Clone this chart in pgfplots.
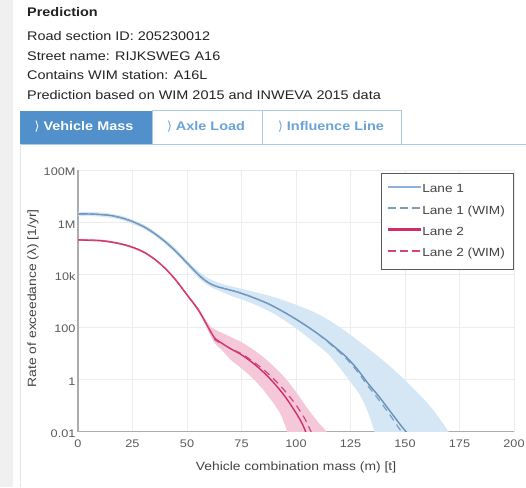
\documentclass[border=0pt]{standalone}
\usepackage{fontspec}
\setmainfont[FakeStretch=1.155]{Liberation Sans}
\newfontfamily\dejavu{DejaVu Sans}
\usepackage{pgfplots}
\pgfplotsset{compat=1.18}
\definecolor{laneone}{HTML}{6592BC}
\definecolor{laneonelegend}{HTML}{8DB1D8}
\definecolor{laneonedash}{HTML}{7D9CBE}
\definecolor{laneonelite}{HTML}{D5E6F4}
\definecolor{lanetwo}{HTML}{CF2F68}
\definecolor{lanetwodash}{HTML}{D6457A}
\definecolor{lanetwolite}{HTML}{F5C8D9}
\definecolor{tabblue}{HTML}{5190CB}
\definecolor{tabborder}{HTML}{A9CBE8}
\definecolor{tabtext}{HTML}{6AA3D8}
\definecolor{txt}{HTML}{222222}
\definecolor{lbl}{HTML}{444444}
\begin{document}
\begin{tikzpicture}[x=1pt,y=1pt]
\path[use as bounding box] (0,0) rectangle (526,487);
\fill[gray!12] (0,0) rectangle (13,487);
% header
\node[anchor=base west, inner sep=0, text=txt, font=\bfseries\fontsize{12.5}{15}\selectfont] at (27,470) {Prediction};
\node[anchor=base west, inner sep=0, text=txt, font=\fontsize{12.5}{15}\selectfont] at (27,446) {Road section ID: 205230012};
\node[anchor=base west, inner sep=0, text=txt, font=\fontsize{12.5}{15}\selectfont] at (27,426.5) {Street name: RIJKSWEG A16};
\node[anchor=base west, inner sep=0, text=txt, font=\fontsize{12.5}{15}\selectfont] at (27,407) {Contains WIM station: A16L};
\node[anchor=base west, inner sep=0, text=txt, font=\fontsize{12.5}{15}\selectfont] at (27,387.5) {Prediction based on WIM 2015 and INWEVA 2015 data};
% tabs
\fill[tabblue] (19.5,343) rectangle (152.3,376.3);
\draw[tabborder, line width=0.8pt] (152.3,343) rectangle (262.3,376.3);
\draw[tabborder, line width=0.8pt] (262.3,343) rectangle (401.7,376.3);
\draw[tabborder, line width=0.8pt] (19.5,343) -- (526,343);
\draw[gray!20, line width=0.8pt] (20,0) -- (20,343);
\node[text=white, font=\bfseries\fontsize{12.5}{15}\selectfont] at (84,360) {{\dejavu\mdseries ⟩} Vehicle Mass};
\node[text=tabtext, font=\bfseries\fontsize{12.5}{15}\selectfont] at (206,360) {{\dejavu\mdseries ⟩} Axle Load};
\node[text=tabtext, font=\bfseries\fontsize{12.5}{15}\selectfont] at (331,360) {{\dejavu\mdseries ⟩} Influence Line};
\begin{axis}[
  at={(78pt,55.3pt)}, anchor=south west, scale only axis,
  width=436pt, height=261.7pt,
  xmin=0, xmax=200, ymode=log, ymin=1e-2, ymax=1e8,
  xtick={0,25,50,75,100,125,150,175,200},
  ytick={1e-2,1,1e2,1e4,1e6,1e8},
  yticklabels={0.01,1,100,10k,1M,100M},
  grid=major, grid style={gray!14, line width=0.6pt},
  axis x line*=bottom, axis y line*=left,
  axis line style={gray!65, line width=1.4pt},
  major tick length=0pt, minor tick num=0,
  /pgf/number format/assume math mode=true,
  tick label style={font=\fontsize{11}{13}\selectfont, text=gray!70!black},
  xticklabel style={yshift=-5pt},
  yticklabel style={xshift=1pt, yshift=-2pt},
  xlabel={Vehicle combination mass (m) [t]},
  ylabel={Rate of exceedance (λ) [1/yr]},
  label style={font=\fontsize{12}{14}\selectfont, text=lbl},
  xlabel style={at={(axis description cs:0.5,-0.135)}, anchor=center},
  ylabel style={at={(axis description cs:-0.103,0.51)}, anchor=center},
  legend style={at={(0.998,0.988)}, anchor=north east, draw=gray!70!black, line width=0.6pt,
    font=\fontsize{11.8}{14}\selectfont, text=lbl, inner xsep=6pt, inner ysep=9pt,
    nodes={inner ysep=2pt}, row sep=7.5pt},
  legend cell align=left,
]
% bands
\addplot[forget plot, draw=none, fill=laneonelite, smooth] coordinates {
(0,2.512e6)(10,2.399e6)(20,1.778e6)(30,8.318e5)(35,4.571e5)(40,2.239e5)(45,9.772e4)(50,3.548e4)(55,1.413e4)(60,7079)(65,4786)(70,3631)(80,2291)(90,1380)(100,707.9)(110,316.2)(120,100)(130,23.99)(140,5.248)(150,0.9333)(160,0.1318)(165,0.0398)(170,0.01)(172,0.005)
(137.5,0.005)(136,0.01)(134.5,0.0251)(132,0.0891)(129,0.2818)(125,0.7943)(120,2.818)(115,8.913)(110,20.0)(100,89.13)(90,316.2)(80,794.3)(70,1585)(65,2399)(60,3715)(55,7943)(50,2.239e4)(45,6.166e4)(40,1.479e5)(35,3.162e5)(30,5.754e5)(20,1.230e6)(10,1.660e6)(0,1.738e6)
} -- cycle;
\addplot[forget plot, draw=none, fill=lanetwolite, smooth] coordinates {
(0,2.344e5)(10,2.239e5)(20,1.622e5)(30,8.128e4)(35,4.365e4)(40,1.905e4)(45,6761)(50,1905)(55,562.3)(58,223.9)(61,100)(63,79.43)(66,60.26)(70,41.69)(75,26.30)(80,14.45)(85,7.079)(90,3.020)(95,1.122)(100,0.3311)(105,0.0832)(110,0.02399)(114,0.01)(115.5,0.005)
(97,0.005)(96,0.01)(93,0.04467)(90,0.1122)(85,0.3981)(80,1.122)(75,2.630)(70,5.623)(66,13.18)(63,22.39)(61,41.69)(58,141.3)(55,398.1)(50,1514)(45,5370)(40,1.585e4)(35,3.631e4)(30,6.761e4)(20,1.349e5)(10,1.862e5)(0,1.950e5)
} -- cycle;
% Lane 1
\addplot[forget plot, laneone, line width=1.4pt, smooth] coordinates {
(0,2.089e6)(5,2.089e6)(10,1.995e6)(15,1.820e6)(20,1.479e6)(25,1.072e6)(30,6.918e5)(35,3.802e5)(40,1.820e5)(45,7.586e4)(50,2.818e4)(55,1.047e4)(58,6310)(61,4365)(64,3467)(68,2818)(73,2188)(78,1585)(83,1096)(88,724.4)(93,436.5)(98,251.2)(103,138.0)(108,72.44)(113,36.31)(118,16.60)(123,7.244)(128,2.512)(133,0.708)(138,0.2239)(143,0.0631)(148,0.0178)(151,0.00891)
};
\addplot[forget plot, laneonedash, line width=1.2pt, dash pattern=on 7pt off 5pt, smooth] coordinates {
(0,2.089e6)(5,2.089e6)(10,1.995e6)(15,1.820e6)(20,1.479e6)(25,1.072e6)(30,6.918e5)(35,3.802e5)(40,1.820e5)(45,7.586e4)(50,2.818e4)(55,1.047e4)(58,6310)(61,4365)(64,3467)(68,2818)(73,2188)(78,1585)(83,1096)(88,724.4)(93,436.5)(98,251.2)(103,138.0)(108,72.44)(113,34.67)(118,15.14)(123,6.310)(128,2.089)(133,0.5623)(138,0.1660)(143,0.0447)(148.5,0.00955)
};
% Lane 2
\addplot[forget plot, lanetwo, line width=1.4pt, smooth] coordinates {
(0,2.138e5)(10,1.995e5)(15,1.778e5)(20,1.479e5)(25,1.122e5)(30,7.413e4)(35,3.981e4)(40,1.738e4)(45,6026)(50,1698)(55,478.6)(58,177.8)(61,63.10)(63,35.48)(66,23.99)(70,14.79)(75,8.710)(80,4.365)(85,1.905)(90,0.7079)(95,0.2188)(100,0.05248)(103,0.01905)(104.5,0.00955)
};
\addplot[forget plot, lanetwodash, line width=1.2pt, dash pattern=on 7pt off 5pt, smooth] coordinates {
(0,2.138e5)(10,1.995e5)(15,1.778e5)(20,1.479e5)(25,1.122e5)(30,7.413e4)(35,3.981e4)(40,1.738e4)(45,6026)(50,1698)(55,478.6)(58,177.8)(61,63.10)(63,31.62)(66,22.91)(70,15.14)(75,9.550)(80,5.012)(85,2.399)(90,1.0)(95,0.3548)(100,0.1047)(104,0.03162)(107,0.00955)
};
\addlegendimage{legend image code/.code={\fill[laneonelegend] (0pt,1.8pt) rectangle (32pt,3.3pt);}}
\addlegendentry{Lane 1}
\addlegendimage{legend image code/.code={\fill[laneonedash] (0pt,1.8pt) rectangle (7pt,3.3pt) (12pt,1.8pt) rectangle (19pt,3.3pt) (24pt,1.8pt) rectangle (31pt,3.3pt);}}
\addlegendentry{Lane 1 (WIM)}
\addlegendimage{legend image code/.code={\fill[lanetwo] (0pt,1.8pt) rectangle (32pt,3.3pt);}}
\addlegendentry{Lane 2}
\addlegendimage{legend image code/.code={\fill[lanetwodash] (0pt,1.8pt) rectangle (7pt,3.3pt) (12pt,1.8pt) rectangle (19pt,3.3pt) (24pt,1.8pt) rectangle (31pt,3.3pt);}}
\addlegendentry{Lane 2 (WIM)}
\end{axis}
\end{tikzpicture}
\end{document}
